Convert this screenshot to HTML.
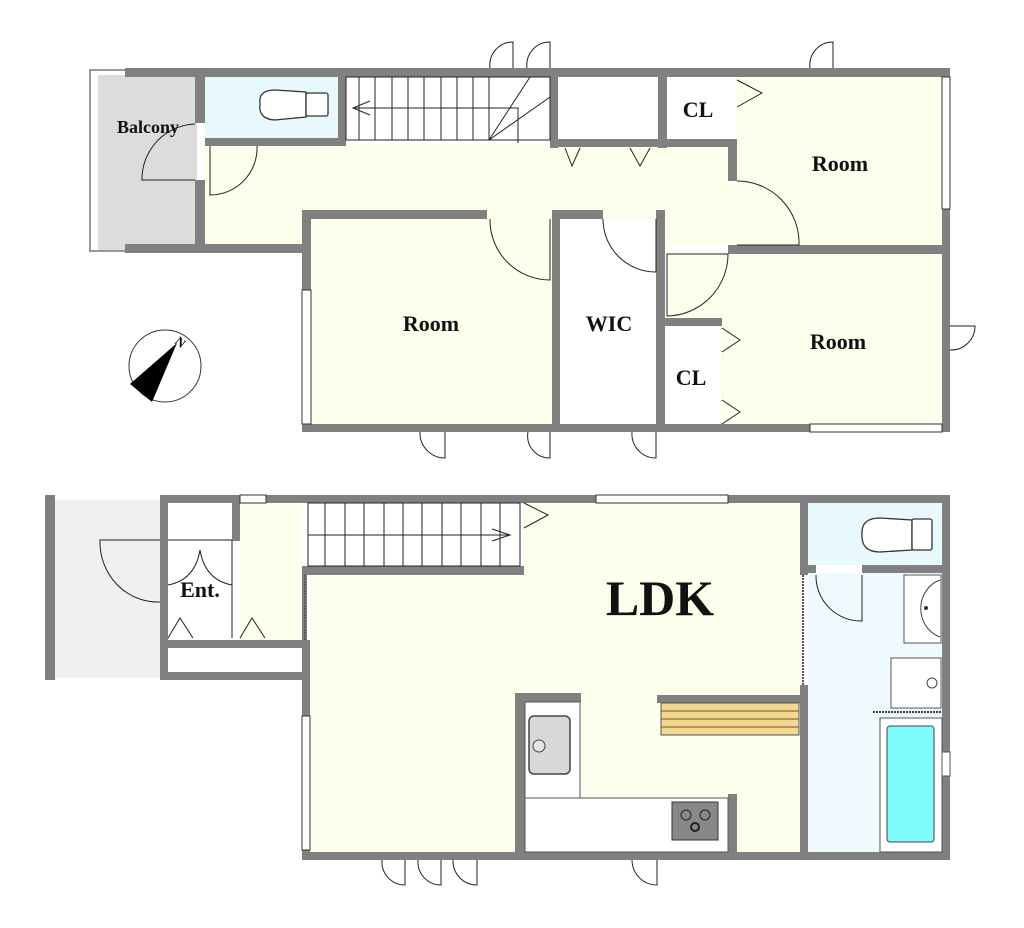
<!DOCTYPE html>
<html><head><meta charset="utf-8"><style>
html,body{margin:0;padding:0;background:#fff;}
svg{display:block;}
text{font-family:"Liberation Serif",serif;font-weight:bold;fill:#111;}
</style></head><body>
<svg width="1024" height="928" viewBox="0 0 1024 928" xmlns="http://www.w3.org/2000/svg">
<g stroke="none">
<!-- UPPER FLOOR fills -->
<rect x="92" y="75" width="105" height="175" fill="#dcdcdc"/>
<rect x="205" y="77" width="135" height="62" fill="#e8f9fd"/>
<rect x="205" y="140" width="530" height="106" fill="#fefeec"/>
<rect x="737" y="77" width="206" height="168" fill="#fefeec"/>
<rect x="309" y="219" width="246" height="206" fill="#fefeec"/>
<rect x="667" y="254" width="276" height="171" fill="#fefeec"/>
<rect x="667" y="326" width="54" height="99" fill="#fff"/>
<rect x="560" y="219" width="96" height="206" fill="#fff"/>
<rect x="558" y="77" width="100" height="62" fill="#fff"/>
<rect x="667" y="77" width="68" height="62" fill="#fff"/>
<rect x="345" y="77" width="205" height="68" fill="#fff"/>
<!-- lower fills -->
<rect x="55" y="500" width="105" height="178" fill="#f0f0f0"/>
<rect x="240" y="503" width="62" height="137" fill="#fefeec"/>
<rect x="310" y="575" width="490" height="277" fill="#fefeec"/>
<rect x="524" y="503" width="276" height="72" fill="#fefeec"/>
<rect x="308" y="503" width="215" height="63" fill="#fff"/>
<rect x="808" y="503" width="134" height="62" fill="#e8f9fd"/>
<rect x="808" y="573" width="134" height="279" fill="#eefafd"/>
<rect x="168" y="503" width="64" height="137" fill="#fff"/>
<rect x="168" y="648" width="134" height="24" fill="#fff"/>
</g>
<g fill="#808080">
<!-- upper walls -->
<rect x="125" y="68" width="825" height="9"/>
<rect x="125" y="244" width="180" height="9"/>
<rect x="195" y="68" width="10" height="55"/>
<rect x="195" y="180" width="10" height="73"/>
<rect x="338" y="68" width="8" height="78"/>
<rect x="205" y="138" width="140" height="8"/>
<rect x="550" y="68" width="8" height="80"/>
<rect x="658" y="68" width="9" height="80"/>
<rect x="558" y="139" width="178" height="8"/>
<rect x="728" y="139" width="9" height="42"/>
<rect x="302" y="210" width="185" height="9"/>
<rect x="302" y="210" width="9" height="222"/>
<rect x="552" y="210" width="8" height="222"/>
<rect x="656" y="210" width="9" height="222"/>
<rect x="560" y="210" width="43" height="9"/>
<rect x="728" y="245" width="222" height="9"/>
<rect x="942" y="68" width="8" height="364"/>
<rect x="302" y="424" width="648" height="8"/>
<rect x="665" y="318" width="57" height="8"/>
<!-- lower walls -->
<rect x="160" y="495" width="790" height="8"/>
<rect x="160" y="495" width="8" height="185"/>
<rect x="232" y="503" width="8" height="38"/>
<rect x="302" y="566" width="222" height="9"/>
<rect x="165" y="640" width="140" height="8"/>
<rect x="160" y="672" width="145" height="8"/>
<rect x="302" y="640" width="8" height="220"/>
<rect x="302" y="566" width="5" height="80"/>
<rect x="302" y="852" width="648" height="8"/>
<rect x="800" y="495" width="8" height="80"/>
<rect x="800" y="685" width="8" height="175"/>
<rect x="808" y="565" width="8" height="8"/>
<rect x="862" y="565" width="88" height="8"/>
<rect x="942" y="495" width="8" height="365"/>
<rect x="515" y="693" width="66" height="9"/>
<rect x="657" y="695" width="143" height="8"/>
<rect x="728" y="794" width="9" height="60"/>
<rect x="515" y="700" width="10" height="155"/>
<rect x="45" y="495" width="10" height="185"/>
</g>
<line x1="803" y1="575" x2="803" y2="685" stroke="#555" stroke-width="2" stroke-dasharray="2,1"/>
<line x1="305" y1="575" x2="305" y2="640" stroke="#555" stroke-width="2" stroke-dasharray="2,1"/>
<!-- kitchen -->
<rect x="525" y="702" width="55" height="96" fill="#fff" stroke="#555"/>
<rect x="529" y="716" width="41" height="58" rx="5" fill="#d8d8d8" stroke="#444" stroke-width="1.5"/>
<circle cx="539" cy="746" r="6" fill="#e5e5e5" stroke="#444"/>
<rect x="525" y="798" width="203" height="54" fill="#fff" stroke="#555"/>
<rect x="672" y="802" width="46" height="38" fill="#888" stroke="#333"/>
<circle cx="686" cy="815" r="5" fill="none" stroke="#222"/><circle cx="705" cy="815" r="5" fill="none" stroke="#222"/><circle cx="695" cy="827" r="4" fill="none" stroke="#222" stroke-width="2"/>
<rect x="661" y="703" width="138" height="32" fill="#f2d890" stroke="#555"/>
<g stroke="#8a7040" stroke-width="1.2"><line x1="661" y1="711" x2="799" y2="711"/><line x1="661" y1="719" x2="799" y2="719"/><line x1="661" y1="727" x2="799" y2="727"/></g>
<!-- bath -->
<rect x="880" y="718" width="62" height="134" fill="#fff" stroke="#555"/>
<rect x="887" y="726" width="47" height="116" rx="3" fill="#80fbfd" stroke="#444"/>
<rect x="942" y="752" width="8" height="24" fill="#fff" stroke="#555"/>
<line x1="873" y1="712" x2="942" y2="712" stroke="#444" stroke-width="2" stroke-dasharray="2,1"/>
<rect x="904" y="575" width="37" height="68" fill="#fff" stroke="#555"/>
<path d="M940 580 A28 30 0 0 0 940 637" fill="none" stroke="#444"/>
<circle cx="926" cy="608" r="2" fill="#333"/>
<rect x="891" y="658" width="50" height="50" fill="#fff" stroke="#555"/>
<circle cx="932" cy="683" r="5" fill="none" stroke="#444"/>
<!-- toilets -->
<g fill="#fff" stroke="#333" stroke-width="1.3">
<path d="M260 104 Q258 90 275 90 L306 92 L306 117 L275 120 Q258 119 260 104Z"/>
<rect x="306" y="93" width="22" height="23" rx="2"/>
<path d="M862 534 Q861 518 880 518 L912 520 L912 550 L880 552 Q861 552 862 534Z"/>
<rect x="912" y="519" width="20" height="31" rx="2"/>
</g>
<g stroke="#222" stroke-width="1" fill="none">
<!-- stairs upper -->
<rect x="346" y="77" width="204" height="63"/>
<path d="M359 77V140M375 77V140M392 77V140M408 77V140M424 77V140M441 77V140M457 77V140M473 77V140M489 77V140"/>
<path d="M353 108H518V143M489 140L530 77M489 140L550 97"/>
<path d="M370 101L353 108L370 115"/>
<!-- stairs lower -->
<rect x="308" y="503" width="212" height="63"/>
<path d="M325 503V566M345 503V566M364 503V566M384 503V566M403 503V566M422 503V566M442 503V566M461 503V566M481 503V566M500 503V566"/>
<path d="M308 535H510M492 529L510 535L492 541"/>
<path d="M524 503L548 515L524 528"/>
<!-- ent -->
<path d="M168 540H232M168 585Q195 580 200 550Q205 580 232 585"/>
<path d="M168 638L180 618L193 638M240 638L252 618L265 638"/>
<line x1="232" y1="540" x2="232" y2="638"/>
<path d="M160 540H100A58 60 0 0 0 160 602"/>
<!-- upper doors -->
<path d="M195 180H142A55 55 0 0 1 195 124"/>
<path d="M210 146V195A47 47 0 0 0 257 146"/>
<path d="M490 219A60 60 0 0 0 550 280V219"/>
<path d="M603 219A53 53 0 0 0 656 272V219"/>
<path d="M737 181A62 62 0 0 1 799 245H737"/>
<path d="M667 254H728A62 62 0 0 1 667 316Z"/>
<path d="M565 148L572 166L580 148M630 148L640 166L650 148"/>
<path d="M737 80L762 93L737 107"/>
<path d="M722 328L740 340L722 352M722 400L740 412L722 424"/>
<path d="M513 68V42A23 23 0 0 0 490 68M550 68V42A23 23 0 0 0 527 68M833 68V42A23 23 0 0 0 810 68"/>
<path d="M445 432V458A25 25 0 0 1 420 432"/>
<path d="M550 432V458A22 22 0 0 1 528 432M656 432V458A24 24 0 0 1 632 432"/>
<path d="M950 326H975A24 24 0 0 1 950 350"/>
<!-- lower doors -->
<path d="M816 575A45 45 0 0 0 862 621V575"/>
<path d="M405 860V885A23 23 0 0 1 382 860M441 860V885A23 23 0 0 1 418 860M477 860V885A24 24 0 0 1 453 860M657 860V885A25 25 0 0 1 632 860"/>
</g>
<!-- windows -->
<g fill="#fff" stroke="#333" stroke-width="1">
<rect x="302" y="290" width="9" height="134"/>
<rect x="942" y="77" width="8" height="132"/>
<rect x="810" y="424" width="132" height="8"/>
<rect x="596" y="495" width="132" height="8"/>
<rect x="240" y="495" width="26" height="8"/>
<rect x="302" y="716" width="8" height="134"/>
</g>
<path d="M125 70H90V251H125" fill="none" stroke="#999" stroke-width="2"/>
<rect x="92" y="75" width="6" height="175" fill="#fff"/>
<!-- compass -->
<circle cx="165" cy="366" r="36" fill="#fff" stroke="#333"/>
<path d="M130 384L177 343L152 402Z" fill="#000"/>
<text x="176" y="347" font-size="13" transform="rotate(40 181 342)">N</text>
<!-- labels -->
<text x="148" y="133" font-size="18" text-anchor="middle">Balcony</text>
<text x="698" y="117" font-size="22" text-anchor="middle">CL</text>
<text x="840" y="171" font-size="22" text-anchor="middle">Room</text>
<text x="431" y="331" font-size="22" text-anchor="middle">Room</text>
<text x="609" y="331" font-size="22" text-anchor="middle">WIC</text>
<text x="838" y="349" font-size="22" text-anchor="middle">Room</text>
<text x="691" y="385" font-size="22" text-anchor="middle">CL</text>
<text x="200" y="597" font-size="22" text-anchor="middle">Ent.</text>
<text x="660" y="615" font-size="50" text-anchor="middle">LDK</text>
</svg>
</body></html>
